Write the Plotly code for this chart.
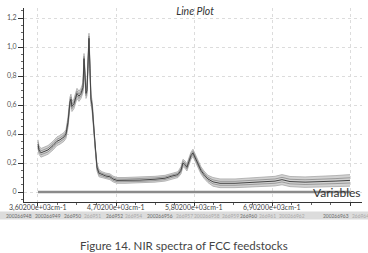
import plotly.graph_objects as go

# ---- data ----
wavenumber = [3602, 3616, 3644, 3687, 3743, 3814, 3870, 3912, 3969, 3997,
              4025, 4053, 4067, 4081, 4110, 4152, 4180, 4208, 4237, 4251,
              4265, 4279, 4293, 4307, 4321, 4335, 4349, 4364, 4378, 4406,
              4434, 4462, 4504, 4560, 4617, 4659, 4716, 4829, 5040, 5252,
              5393, 5491, 5576, 5618, 5646, 5674, 5702, 5730, 5759, 5787,
              5815, 5843, 5871, 5899, 5942, 5998, 6069, 6168, 6380, 6591,
              6803, 6944, 7042, 7155, 7367, 7578, 7790, 8001]
mean_abs = [0.33, 0.29, 0.27, 0.28, 0.29, 0.32, 0.35, 0.36, 0.38, 0.40,
            0.48, 0.62, 0.64, 0.59, 0.61, 0.68, 0.66, 0.68, 0.72, 0.92,
            0.80, 0.68, 0.70, 0.90, 1.06, 0.85, 0.64, 0.60, 0.52, 0.30,
            0.17, 0.13, 0.12, 0.11, 0.105, 0.09, 0.08, 0.08, 0.082, 0.088,
            0.095, 0.11, 0.12, 0.15, 0.20, 0.19, 0.17, 0.21, 0.25, 0.27,
            0.24, 0.22, 0.18, 0.15, 0.12, 0.09, 0.07, 0.06, 0.06, 0.065,
            0.07, 0.075, 0.085, 0.072, 0.068, 0.07, 0.075, 0.08]
spread = [0.03, 0.03, 0.03, 0.03, 0.03, 0.03, 0.03, 0.03, 0.03, 0.03,
          0.035, 0.035, 0.035, 0.035, 0.035, 0.035, 0.035, 0.035, 0.035, 0.035,
          0.035, 0.035, 0.035, 0.035, 0.035, 0.035, 0.035, 0.035, 0.035, 0.025,
          0.025, 0.025, 0.02, 0.02, 0.02, 0.02, 0.02, 0.02, 0.02, 0.02,
          0.02, 0.02, 0.02, 0.025, 0.025, 0.025, 0.025, 0.025, 0.025, 0.025,
          0.025, 0.025, 0.025, 0.025, 0.025, 0.025, 0.03, 0.03, 0.03, 0.03,
          0.032, 0.033, 0.035, 0.035, 0.036, 0.037, 0.038, 0.04]
assert len(wavenumber) == len(mean_abs) == len(spread)

baseline_x = [3602, 8002]
baseline_y = [0, 0]

x_tickvals = [3602, 4702, 5802, 6902, 8002]
x_ticktext = ["3,60200e+03cm-1", "4,70200e+03cm-1", "5,80200e+03cm-1",
              "6,90200e+03cm-1", ""]
y_tickvals = [0, 0.2, 0.4, 0.6, 0.8, 1.0, 1.2]
y_ticktext = ["0", "0,2", "0,4", "0,6", "0,8", "1,0", "1,2"]

row_labels = ["200266948", "200266949", "266950", "266951", "266952", "266954",
              "200266956", "266957", "200266958", "266959", "266960", "266961",
              "200266962", "200266963", "266964"]
row_dark = [1, 1, 1, 0, 1, 0, 1, 0, 0, 0, 1, 0, 0, 1, 0]

# ---- figure ----
upper = [m + s for m, s in zip(mean_abs, spread)]
lower = [m - s for m, s in zip(mean_abs, spread)]
inner_up = [m + 0.45 * s for m, s in zip(mean_abs, spread)]
inner_lo = [m - 0.45 * s for m, s in zip(mean_abs, spread)]

fig = go.Figure()
fig.add_trace(go.Scatter(x=wavenumber, y=lower, mode="lines",
                         line=dict(color="#a8a8a8", width=0.8)))
fig.add_trace(go.Scatter(x=wavenumber, y=upper, mode="lines", fill="tonexty",
                         fillcolor="#d2d2d2", line=dict(color="#a8a8a8", width=0.8)))
fig.add_trace(go.Scatter(x=wavenumber, y=inner_lo, mode="lines",
                         line=dict(color="#8a8a8a", width=0.8)))
fig.add_trace(go.Scatter(x=wavenumber, y=inner_up, mode="lines",
                         line=dict(color="#8a8a8a", width=0.8)))
fig.add_trace(go.Scatter(x=wavenumber, y=mean_abs, mode="lines",
                         line=dict(color="#444444", width=1.0)))
fig.add_trace(go.Scatter(x=baseline_x, y=baseline_y, mode="lines",
                         line=dict(color="#8a8a8a", width=2.5)))

FONT = "Lato"
fig.update_layout(
    width=368, height=253,
    margin=dict(l=24, r=6, t=8, b=51),
    paper_bgcolor="white", plot_bgcolor="white",
    showlegend=False,
    font=dict(family=FONT, color="#444"),
    title=dict(text="<i>Line Plot</i>", x=0.53, xanchor="center",
               y=0.955, yanchor="middle", font=dict(size=10.5, color="#333", family=FONT)),
    xaxis=dict(range=[3405, 8170], tickvals=x_tickvals, showticklabels=False,
               ticks="outside", ticklen=3, tickcolor="#333",
               showline=True, linecolor="#333", linewidth=1,
               showgrid=True, gridcolor="#dcdcdc", griddash="dot", gridwidth=1,
               zeroline=False,
               minor=dict(ticks="outside", ticklen=2, dtick=275, tick0=3602,
                          tickcolor="#666", showgrid=False)),
    yaxis=dict(range=[-0.069, 1.269], tickvals=y_tickvals, ticktext=y_ticktext,
               ticks="outside", ticklen=5, tickcolor="#333",
               showline=True, linecolor="#333", linewidth=1,
               showgrid=True, gridcolor="#dcdcdc", griddash="dot", gridwidth=1,
               zeroline=False, tickfont=dict(size=7, color="#555", family=FONT),
               minor=dict(ticks="outside", ticklen=2.5, dtick=0.05, tick0=0,
                          tickcolor="#666", showgrid=False)),
)

# plot area geometry in px (for converting layout positions to paper coords)
PL, PR, PT, PB = 24, 362, 8, 202
def px_x(px):
    return (px - PL) / (PR - PL)
def px_y(py):
    return (PB - py) / (PB - PT)

# x tick labels placed tight under the axis line (as in the reference)
for tv, tt in zip(x_tickvals, x_ticktext):
    if tt:
        fig.add_annotation(text=tt, xref="x", yref="paper", x=tv, y=px_y(207.5),
                           showarrow=False, xanchor="center", yanchor="middle", borderpad=0,
                           font=dict(size=7, color="#444", family=FONT))

# gray band of sample labels
fig.add_shape(type="rect", xref="paper", yref="paper",
              x0=px_x(0), x1=px_x(368), y0=px_y(219.5), y1=px_y(211.5),
              fillcolor="#dcdcdc", line=dict(width=0), layer="below")
row_centers = [19, 48, 72, 92, 114, 133, 160, 184, 207, 230, 248, 267, 292, 336, 360]
for lab, cx, dk in zip(row_labels, row_centers, row_dark):
    fig.add_annotation(text=lab, xref="paper", yref="paper", x=px_x(cx), y=px_y(215.5),
                       showarrow=False, xanchor="center", yanchor="middle", borderpad=0,
                       font=dict(size=4.9, color="#6a6a6a" if dk else "#a8a8a8", family=FONT))

fig.add_annotation(text="Variables", xref="paper", yref="paper", x=1.0, y=px_y(201),
                   showarrow=False, xanchor="right", yanchor="bottom", borderpad=0,
                   font=dict(size=12, color="#333", family=FONT))
fig.add_annotation(text="Figure 14. NIR spectra of FCC feedstocks", xref="paper", yref="paper",
                   x=px_x(183.5), y=px_y(245), showarrow=False,
                   xanchor="center", yanchor="middle",
                   font=dict(size=11.5, color="#444", family=FONT))

fig.write_html("out.html", config={"displayModeBar": False},
               post_script="document.body.style.margin='0';document.body.style.overflow='hidden';")
